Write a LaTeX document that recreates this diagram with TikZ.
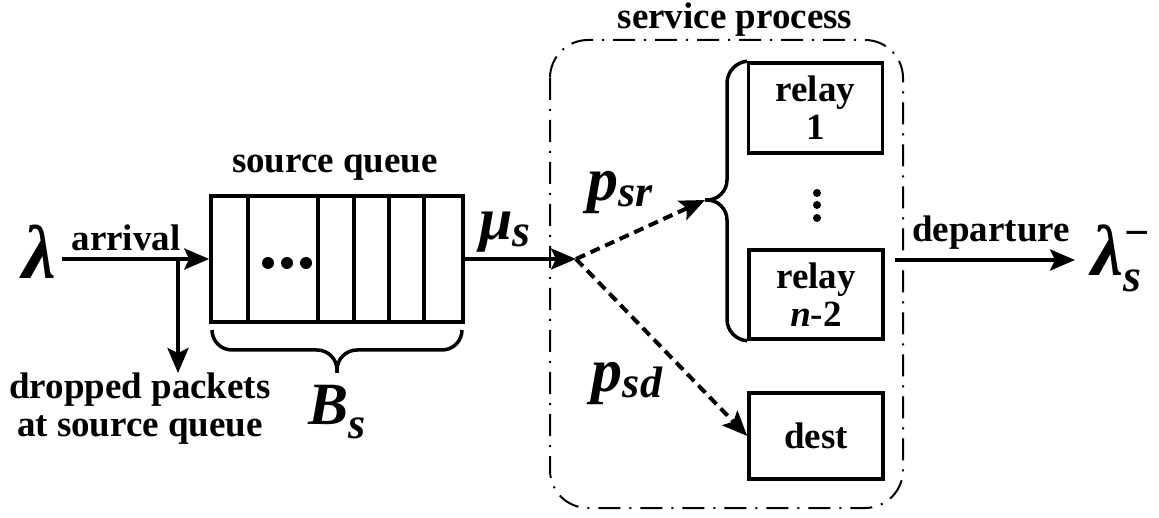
\documentclass[tikz,border=0pt]{standalone}
\usepackage{fontspec}
\setmainfont{Liberation Serif}
\usetikzlibrary{arrows.meta}
% lowered subscript for the bold italic symbols
\newcommand{\lowsub}[3][-9pt]{\raisebox{#1}{\fontsize{#2}{#2}\selectfont #3}}
\begin{document}
\begin{tikzpicture}[x=1pt,y=-1pt,
  lbl/.style={font=\fontsize{37}{38}\selectfont\bfseries, inner sep=0pt, align=center},
  sym/.style={font=\fontsize{#1}{#1}\selectfont\bfseries\itshape, inner sep=0pt},
  sym/.default=60,
  boxline/.style={line width=3.5pt},
  unit/.style={draw, boxline, minimum width=134pt, inner sep=0pt, align=center,
    font=\fontsize{37}{38}\selectfont\bfseries},
  flow/.style={line width=4pt, -{Stealth[length=25pt,width=21pt,inset=5pt]}},
  route/.style={flow, dash pattern=on 10pt off 6pt},
  procbox/.style={line width=2pt, dash pattern=on 22pt off 9pt on 2pt off 9pt,
    rounded corners=38pt},
  dot/.style={circle, fill, inner sep=0pt, minimum size=#1}]
\useasboundingbox (0,0) rectangle (1159,518);

% source queue
\node[draw, boxline, minimum width=252pt, minimum height=126pt, inner sep=0pt]
  (queue) at (337,259) {};
\foreach \x in {248,318,354,389,424}
  \draw[boxline] (queue.north west -| \x,0) -- (queue.south west -| \x,0);
\foreach \x in {268,287,306}
  \node[dot=12pt] at (\x,263) {};
\node[lbl] (qlabel) at (335,168) {source queue};

% buffer size brace
\coordinate (btip) at (337,373);
\draw[boxline, rounded corners=20pt]
  (212,330) -- (212,350) -- (337,350) -- (btip);
\draw[boxline, rounded corners=20pt]
  (462,330) -- (462,350) -- (337,350) -- (btip);
\node[sym=60] (bs) at (337,412) {B\lowsub[-14pt]{44}{s}};

% arrivals
\node[sym=76] (lam) at (39,252) {λ};
\node[lbl] (arrlabel) at (126,238) {arrival};
\coordinate (drop) at (178,259);
\draw[flow] (lam.east |- queue.west) ++(6,0) -- (queue.west);
\node[lbl] (droptext) at (140,409) {dropped packets\\at source queue};
\draw[flow] (drop) -- (drop |- droptext.north);

% service stage
\draw[procbox] (550,40) rectangle (903,508);
\node[lbl] (svclabel) at (735,20) {service process};
\node[unit, minimum height=90pt] (relay1) at (815.5,108) {relay\\1};
\node[unit, minimum height=89pt] (relayn) at (816,294.5) {relay\\\textit{n}-2};
\node[unit, minimum height=86pt] (dest) at (816,436) {dest};
\foreach \y in {193,205,218}
  \node[dot=8pt] at (817,\y) {};
\coordinate (rtip) at (705,200);
\draw[boxline, rounded corners=20pt]
  (relay1.north west) -- (727,63) -- (727,200) -- (rtip);
\draw[boxline, rounded corners=20pt]
  (relayn.south west) -- (727,339.5) -- (727,200) -- (rtip);

% dispatch to relays or destination
\coordinate (split) at (576,259);
\draw[flow] (queue.east) -- (split);
\node[sym=60] (mus) at (505,232) {μ\lowsub[-7pt]{46}{s}};
\draw[route] (split) -- (rtip);
\draw[route] (split) -- (dest.west);
\node[sym=62] (psr) at (620,192) {p\lowsub[-6pt]{44}{sr}};
\node[sym=62] (psd) at (627,383) {p\lowsub[-6pt]{44}{sd}};

% departures
\coordinate (depstart) at (895,260);
\coordinate (depend) at (1075,260);
\draw[flow] (depstart) -- (depend);
\node[lbl] (deplabel) at (991,233) {departure};
\node[sym=72] (lamout) at (1116,258)
  {λ\makebox[0pt][l]{\raisebox{28pt}{\fontsize{44}{44}\selectfont −}}\lowsub[-16pt]{46}{s}};
\end{tikzpicture}
\end{document}
